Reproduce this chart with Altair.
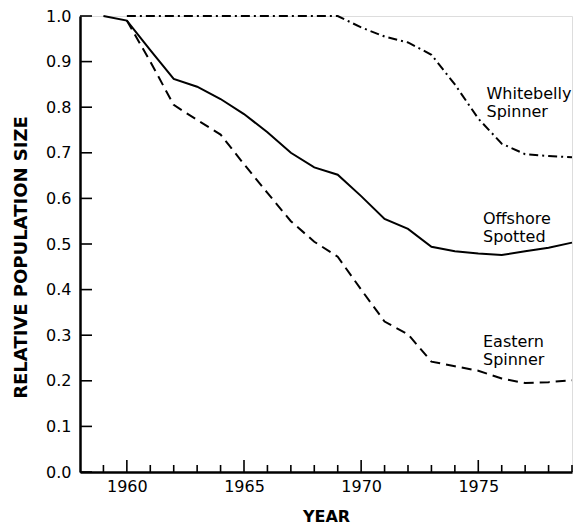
import altair as alt
import pandas as pd

years_off = list(range(1959, 1980))
offshore = [1.0, 0.99, 0.925, 0.862, 0.845, 0.818, 0.785, 0.745, 0.70, 0.668, 0.652, 0.605, 0.555, 0.533, 0.494, 0.484, 0.479, 0.476, 0.484, 0.492, 0.503]

years_east = list(range(1960, 1980))
eastern = [0.99, 0.90, 0.805, 0.772, 0.74, 0.675, 0.612, 0.55, 0.505, 0.472, 0.40, 0.33, 0.302, 0.242, 0.232, 0.222, 0.205, 0.195, 0.197, 0.201]

years_white = list(range(1960, 1980))
whitebelly = [1.0, 1.0, 1.0, 1.0, 1.0, 1.0, 1.0, 1.0, 1.0, 1.0, 0.975, 0.955, 0.942, 0.915, 0.85, 0.775, 0.72, 0.697, 0.693, 0.69]

label_text = ["Whitebelly\nSpinner", "Offshore\nSpotted", "Eastern\nSpinner"]
label_x = [1975.35, 1975.2, 1975.2]
label_y = [0.83, 0.555, 0.284]

y_ticks = [0.0, 0.1, 0.2, 0.3, 0.4, 0.5, 0.6, 0.7, 0.8, 0.9, 1.0]
x_major = [1960, 1965, 1970, 1975]
x_minor = [y for y in range(1959, 1980) if y not in x_major]

W, H = 492, 456
FONT = "DejaVu Sans"

xs = alt.Scale(domain=[1958, 1979], nice=False)
ys = alt.Scale(domain=[0, 1], nice=False)

def line(years, vals, dash):
    df = pd.DataFrame({"year": years, "v": vals})
    kw = dict(color="black", strokeWidth=2)
    if dash:
        kw["strokeDash"] = dash
    return alt.Chart(df).mark_line(**kw).encode(
        x=alt.X("year:Q", scale=xs,
                axis=alt.Axis(values=x_major, format="d", title="YEAR", ticks=False, tickSize=0,
                              grid=False, domainColor="black", domainWidth=2.5,
                              labelFont=FONT, labelFontSize=16, labelColor="black", labelPadding=6,
                              titleFont=FONT, titleFontSize=16, titleFontWeight="bold",
                              titleColor="black", titlePadding=14)),
        y=alt.Y("v:Q", scale=ys,
                axis=alt.Axis(values=y_ticks, format=".1f", title="RELATIVE POPULATION SIZE",
                              ticks=False, tickSize=0, grid=False, domainColor="black", domainWidth=2.5,
                              labelFont=FONT, labelFontSize=16, labelColor="black", labelPadding=9,
                              titleFont=FONT, titleFontSize=18, titleFontWeight="bold",
                              titleColor="black", titlePadding=15, titleY=241)),
    )

l_off = line(years_off, offshore, None)
l_east = line(years_east, eastern, [10, 6])
l_white = line(years_white, whitebelly, [9, 4, 2, 4])

ytick_df = pd.DataFrame({"t": y_ticks})
ytick = alt.Chart(ytick_df).mark_rule(color="black", strokeWidth=1.6).encode(
    y=alt.Y("t:Q", scale=ys), x=alt.value(0), x2=alt.value(12))

xmaj = alt.Chart(pd.DataFrame({"t": x_major})).mark_rule(color="black", strokeWidth=1.6).encode(
    x=alt.X("t:Q", scale=xs), y=alt.value(H), y2=alt.value(H - 12))
xmin = alt.Chart(pd.DataFrame({"t": x_minor})).mark_rule(color="black", strokeWidth=1.6).encode(
    x=alt.X("t:Q", scale=xs), y=alt.value(H), y2=alt.value(H - 7))

lab = alt.Chart(pd.DataFrame({"x": label_x, "y": label_y, "t": label_text})).mark_text(
    align="left", baseline="middle", font=FONT, fontSize=16, lineHeight=18, lineBreak="\n", color="black"
).encode(x=alt.X("x:Q", scale=xs), y=alt.Y("y:Q", scale=ys), text="t:N")

chart = alt.layer(l_off, l_east, l_white, ytick, xmaj, xmin, lab).properties(
    width=W, height=H,
    autosize=alt.AutoSizeParams(type="none"),
    padding={"left": 72, "top": 8, "right": 3, "bottom": 55},
).configure_view(stroke=None).configure(background="white")

chart.save("out.html", embed_options={"renderer": "svg", "actions": False})
